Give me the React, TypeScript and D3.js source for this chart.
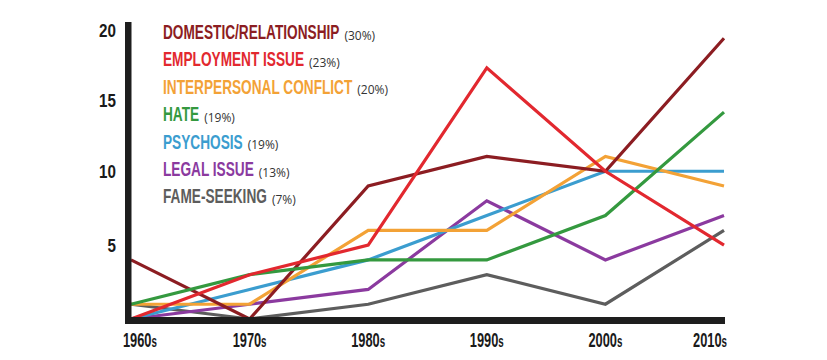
import React, { useEffect, useRef } from "react";
import * as d3 from "d3";

const decades = ["1960s", "1970s", "1980s", "1990s", "2000s", "2010s"];
const categories = [
  "DOMESTIC/RELATIONSHIP",
  "EMPLOYMENT ISSUE",
  "INTERPERSONAL CONFLICT",
  "HATE",
  "PSYCHOSIS",
  "LEGAL ISSUE",
  "FAME-SEEKING",
];
const shares = ["(30%)", "(23%)", "(20%)", "(19%)", "(19%)", "(13%)", "(7%)"];
const domestic = [4, 0, 9, 11, 10, 19];
const employment = [0, 3, 5, 17, 10, 5];
const interpersonal = [1, 1, 6, 6, 11, 9];
const hate = [1, 3, 4, 4, 7, 14];
const psychosis = [0, 2, 4, 7, 10, 10];
const legal = [0, 1, 2, 8, 4, 7];
const fame = [1, 0, 1, 3, 1, 6];
const yTicks = [5, 10, 15, 20];

const seriesValues = [domestic, employment, interpersonal, hate, psychosis, legal, fame];
const colors = ["#8c1d22", "#e2282f", "#f3a236", "#34993f", "#3b9dcf", "#8b3a9f", "#5d5d5d"];
const drawOrder = [6, 5, 4, 2, 0, 3, 1];

const W = 827;
const H = 360;
const FONT = "'Liberation Sans Narrow', 'Arial Narrow', sans-serif";
const LEG_SCALE = 0.683;

export default function App() {
  const ref = useRef<SVGSVGElement | null>(null);

  useEffect(() => {
    const svg = d3.select(ref.current);
    svg.selectAll("*").remove();

    const x = d3.scalePoint<string>().domain(decades).range([131, 724]);
    const y = d3.scaleLinear().domain([0, 20]).range([319, 23.5]);

    const line = d3
      .line<number>()
      .x((_, i) => x(decades[i]) as number)
      .y((d) => y(d))
      .curve(d3.curveLinear);

    // lines
    const lg = svg.append("g");
    drawOrder.forEach((si) => {
      lg.append("path")
        .attr("d", line(seriesValues[si]) as string)
        .attr("fill", "none")
        .attr("stroke", colors[si])
        .attr("stroke-width", 3.2)
        .attr("stroke-linejoin", "miter");
    });

    // axes bars
    svg.append("rect").attr("x", 125).attr("y", 22).attr("width", 6.5).attr("height", 302).attr("fill", "#1e1e1e");
    svg.append("rect").attr("x", 125).attr("y", 317).attr("width", 600).attr("height", 7).attr("fill", "#1e1e1e");

    // y tick labels
    yTicks.forEach((t) => {
      svg
        .append("text")
        .attr("transform", `translate(116,${y(t) + 7 + (t >= 15 ? (t - 10) * 0.6 : 0)}) scale(0.8,1)`)
        .attr("text-anchor", "end")
        .attr("font-family", FONT)
        .attr("font-weight", "bold")
        .attr("font-size", 19)
        .attr("fill", "#1a1a1a")
        .text(String(t));
    });

    // x tick labels
    decades.forEach((d, i) => {
      const px = x(d) as number;
      let anchor = "middle";
      let tx = px;
      if (i === 0) {
        anchor = "start";
        tx = px - 8;
      } else if (i === decades.length - 1) {
        anchor = "end";
        tx = px + 3;
      }
      const t = svg
        .append("text")
        .attr("transform", `translate(${tx},347) scale(0.61,1)`)
        .attr("text-anchor", anchor)
        .attr("font-family", FONT)
        .attr("font-weight", "bold")
        .attr("font-size", 21)
        .attr("fill", "#1a1a1a");
      t.append("tspan").text(d.slice(0, 4));
      t.append("tspan").attr("font-size", 16).text(d.slice(4));
    });

    // legend
    const lx = 163;
    categories.forEach((c, i) => {
      const by = 39 + i * 27.4;
      const label = svg
        .append("text")
        .attr("transform", `translate(${lx},${by}) scale(${LEG_SCALE},1)`)
        .attr("font-family", FONT)
        .attr("font-weight", "bold")
        .attr("font-size", 20)
        .attr("fill", colors[i])
        .text(c);
      const len = (label.node() as SVGTextElement).getComputedTextLength() * LEG_SCALE;
      svg
        .append("text")
        .attr("x", lx + len + 5)
        .attr("y", by + 0.5)
        .attr("font-family", "'Open Sans', sans-serif")
        .attr("font-size", 12)
        .attr("fill", "#333")
        .text(shares[i]);
    });
  }, []);

  return (
    <svg
      ref={ref}
      width={W}
      height={H}
      style={{ position: "absolute", left: 0, top: 0, background: "#fff" }}
    />
  );
}
